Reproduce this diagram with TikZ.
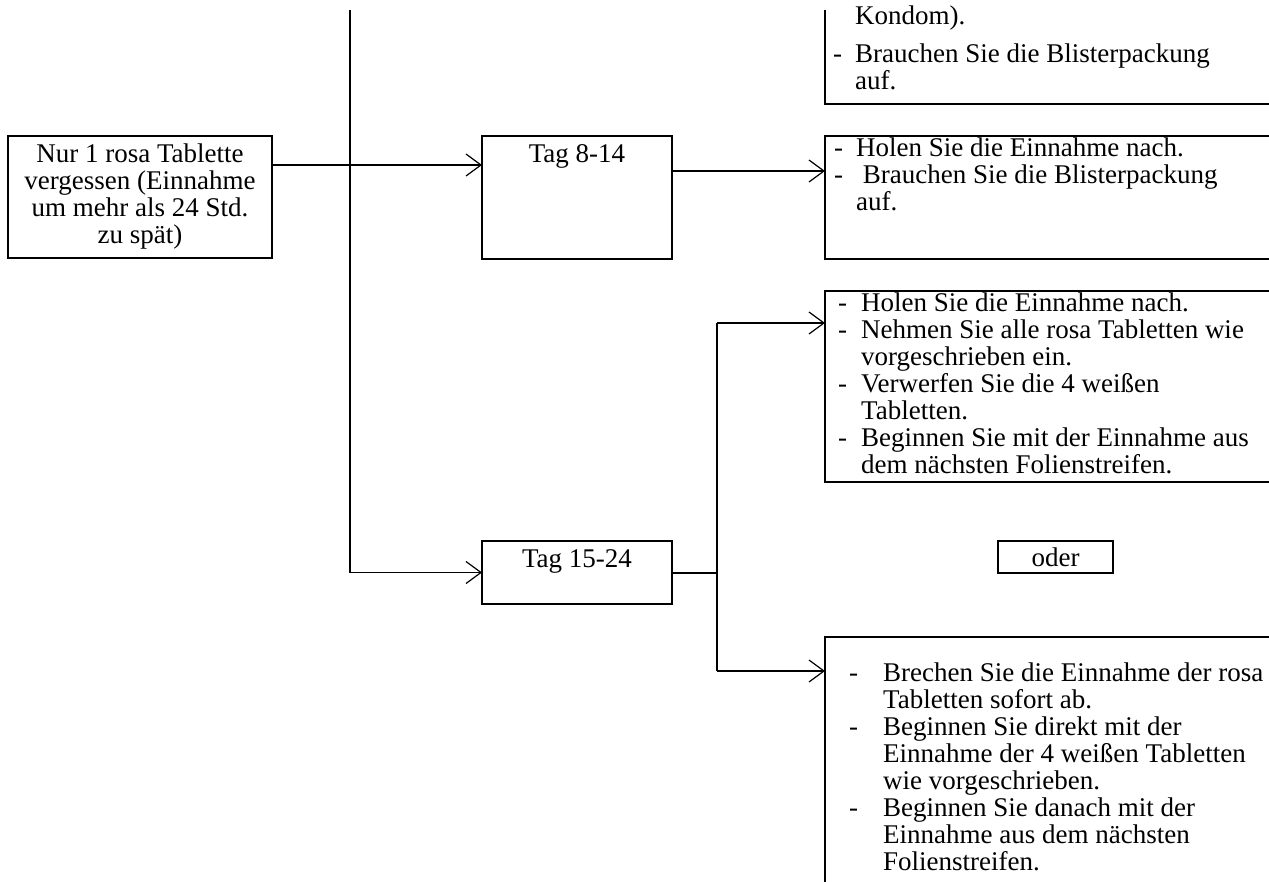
\documentclass[tikz,border=0pt]{standalone}
\usepackage{fontspec}
\setmainfont{Liberation Serif}
\usetikzlibrary{arrows.meta}
\newcommand\myfs{\fontsize{27}{27}\selectfont}
\newcommand\dsh[1]{\makebox[#1][l]{-}}
\newcommand\nodsh[1]{\makebox[#1][l]{}}
\begin{document}
\begin{tikzpicture}[x=1pt,y=-1pt,
  box/.style={draw, line width=2pt, inner sep=0pt, outer sep=0pt, anchor=north west},
  lbl/.style={inner sep=0pt, font=\myfs},
  trunk/.style={line width=2pt},
  arr/.style={line width=1.2pt, -{Straight Barb[length=15pt,width=22pt,line width=1.2pt]}}]
\useasboundingbox (0,0) rectangle (1269,881);
\clip (0,0) rectangle (1269,881);
% boxes
\node[box, minimum width=264pt, minimum height=122pt, align=center, font=\myfs] (start) at (8,136)
  {Nur 1 rosa Tablette\\vergessen (Einnahme\\um mehr als 24 Std.\\zu spät)};
\node[box, minimum width=190pt, minimum height=123pt] (t814) at (482,136) {};
\node[lbl, anchor=base] (t814l) at ([yshift=-26pt]t814.north) {Tag 8-14};
\node[box, minimum width=190pt, minimum height=63pt] (t1524) at (482,541) {};
\node[lbl, anchor=base] (t1524l) at ([yshift=-26pt]t1524.north) {Tag 15-24};
\node[box, minimum width=480pt, minimum height=123pt] (r814) at (825,136) {};
\node[box, minimum width=480pt, minimum height=191pt] (r1524a) at (825,291) {};
\node[box, minimum width=480pt, minimum height=300pt] (r1524b) at (825,637) {};
\node[box, minimum width=115pt, minimum height=32pt, font=\myfs] (oder) at (998,541) {oder};
\begin{scope}
\clip (0,10) rectangle (1269,881);
\node[box, minimum width=480pt, minimum height=200pt, anchor=south west] (r17) at (825,104) {};
\coordinate (top) at (350,0);
\coordinate (j1) at (350,572.5);
\draw[trunk] (top) -- (j1);
\end{scope}
% texts
\node[lbl, anchor=base west] (r17t) at (833,24) {\begin{tabular}[t]{@{}l@{}l@{}}
  \nodsh{22pt} & Kondom).\\[11pt]
  - & Brauchen Sie die Blisterpackung\\
    & auf.
  \end{tabular}};
\node[lbl, anchor=base west] (r814t) at (834,156) {\begin{tabular}[t]{@{}l@{}l@{}}
  \dsh{22pt} & Holen Sie die Einnahme nach.\\
  - & \ Brauchen Sie die Blisterpackung\\
    & auf.
  \end{tabular}};
\node[lbl, anchor=base west] (r1524at) at (838,311) {\begin{tabular}[t]{@{}l@{}l@{}}
  \dsh{23pt} & Holen Sie die Einnahme nach.\\
  - & Nehmen Sie alle rosa Tabletten wie\\
    & vorgeschrieben ein.\\
  - & Verwerfen Sie die 4 weißen\\
    & Tabletten.\\
  - & Beginnen Sie mit der Einnahme aus\\
    & dem nächsten Folienstreifen.
  \end{tabular}};
\node[lbl, anchor=base west] (r1524bt) at (849,681) {\begin{tabular}[t]{@{}l@{}l@{}}
  \dsh{34pt} & Brechen Sie die Einnahme der rosa\\
    & Tabletten sofort ab.\\
  - & Beginnen Sie direkt mit der\\
    & Einnahme der 4 weißen Tabletten\\
    & wie vorgeschrieben.\\
  - & Beginnen Sie danach mit der\\
    & Einnahme aus dem nächsten\\
    & Folienstreifen.
  \end{tabular}};
% connectors
\coordinate (a165) at (0,165);
\coordinate (a171) at (0,171);
\draw[arr] (start.east |- a165) -- (t814.west |- a165);
\draw[arr] (j1) -- (t1524.west);
\draw[arr] (t814.east |- a171) -- (r814.west |- a171);
\coordinate (j2) at (717,572.5);
\coordinate (j2t) at (717,323);
\coordinate (j2b) at (717,671);
\draw[trunk] (t1524.east) -- (j2);
\draw[trunk] (j2t) -- (j2b);
\draw[arr] (j2t) -- (r1524a.west |- j2t);
\draw[arr] (j2b) -- (r1524b.west |- j2b);
\end{tikzpicture}
\end{document}
